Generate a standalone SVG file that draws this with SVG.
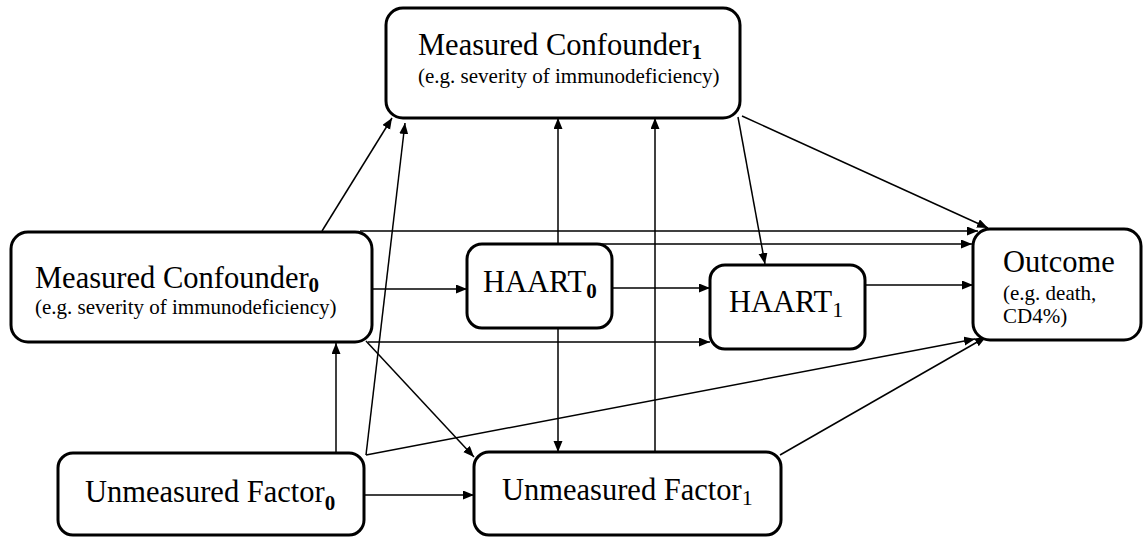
<svg xmlns="http://www.w3.org/2000/svg" width="1143" height="537" viewBox="0 0 1143 537">
<style>
text{font-family:'Liberation Serif','DejaVu Serif',serif;fill:#000}
.box{fill:#fff;stroke:#000;stroke-width:3}
.t{font-size:30.5px}
.s{font-size:21px}
.sb{font-size:21px;font-weight:bold}
.sn{font-size:22px}
.c line{stroke:#000;stroke-width:1.5;fill:none;marker-end:url(#ah)}
</style>
<defs>
<marker id="ah" markerUnits="userSpaceOnUse" markerWidth="12" markerHeight="10" refX="11" refY="4.5" orient="auto">
<path d="M0,0 L11,4.5 L0,9 z" fill="#000"/>
</marker>
</defs>
<rect width="1143" height="537" fill="#fff"/>
<g id="connectors" class="c">
<line x1="322" y1="231" x2="392" y2="118"/>
<line x1="366" y1="455" x2="405" y2="123"/>
<line x1="360" y1="231" x2="978" y2="231"/>
<line x1="595" y1="244" x2="972" y2="244"/>
<line x1="558" y1="244" x2="558" y2="118"/>
<line x1="558" y1="328" x2="558" y2="452"/>
<line x1="655" y1="452" x2="655" y2="118"/>
<line x1="738" y1="117" x2="765" y2="264"/>
<line x1="742" y1="116" x2="988" y2="228"/>
<line x1="372" y1="289" x2="467" y2="289"/>
<line x1="612" y1="288" x2="710" y2="288"/>
<line x1="865" y1="285" x2="973" y2="285"/>
<line x1="368" y1="342" x2="710" y2="342"/>
<line x1="336" y1="453" x2="336" y2="343"/>
<line x1="366" y1="341" x2="474" y2="457"/>
<line x1="366" y1="455" x2="975" y2="339"/>
<line x1="780" y1="455" x2="986" y2="337"/>
<line x1="364" y1="495" x2="474" y2="495"/>
</g>
<g id="mc1">
<rect class="box" x="386" y="8" width="354" height="110" rx="17"/>
<text class="t" x="418" y="55">Measured Confounder<tspan class="sb" dy="4">1</tspan></text>
<text class="s" x="418" y="83">(e.g. severity of immunodeficiency)</text>
</g>
<g id="mc0">
<rect class="box" x="11" y="232" width="361" height="110" rx="17"/>
<text class="t" x="35" y="288">Measured Confounder<tspan class="sb" dy="4">0</tspan></text>
<text class="s" x="35" y="314">(e.g. severity of immunodeficiency)</text>
</g>
<g id="haart0">
<rect class="box" x="467" y="244" width="145" height="84" rx="15"/>
<text class="t" x="483" y="292">HAART<tspan class="sb" dy="6">0</tspan></text>
</g>
<g id="haart1">
<rect class="box" x="710" y="265" width="155" height="84" rx="15"/>
<text class="t" x="729" y="312">HAART<tspan class="sn" dy="5">1</tspan></text>
</g>
<g id="outcome">
<rect class="box" x="973" y="229" width="168" height="111" rx="17"/>
<text class="t" x="1003" y="272">Outcome</text>
<text class="s" x="1003" y="300">(e.g. death,</text>
<text class="s" x="1003" y="323">CD4%)</text>
</g>
<g id="uf0">
<rect class="box" x="58" y="453" width="306" height="82" rx="15"/>
<text class="t" x="85" y="502">Unmeasured Factor<tspan class="sb" dy="8">0</tspan></text>
</g>
<g id="uf1">
<rect class="box" x="474" y="452" width="307" height="83" rx="15"/>
<text class="t" x="502" y="500">Unmeasured Factor<tspan class="sn" dy="5">1</tspan></text>
</g>
</svg>
